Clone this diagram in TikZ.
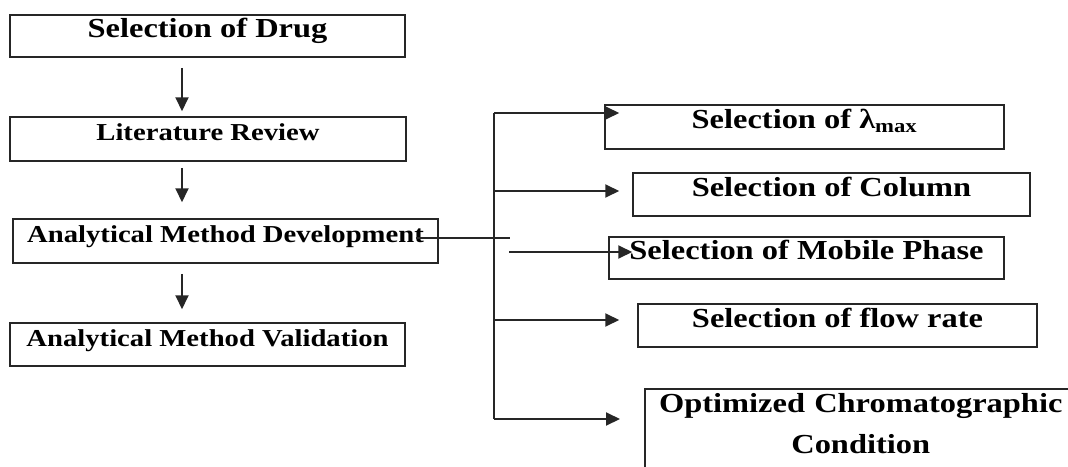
\documentclass[tikz,border=0pt]{standalone}
\usepackage{fontspec}
\setmainfont{Liberation Serif}[FakeStretch=1.18]
\usetikzlibrary{arrows.meta,calc}

\begin{document}
\begin{tikzpicture}[x=1pt,y=-1pt,
    box/.style={draw=black!85,line width=1.5pt,inner sep=4pt,text height=0.7em,text depth=0.38em,
      font=\fontsize{27.5}{33}\selectfont\bfseries},
    smallbox/.style={box,font=\fontsize{24.3}{29}\selectfont\bfseries},
    conn/.style={draw=black!85,line width=1.9pt},
    arr/.style={conn,-{Triangle[length=14pt,width=13pt]}}]
    \clip (0,0) rectangle (1068,466);
    \node[box,minimum width=395pt,minimum height=42pt] (drug) at (207.5,36) {Selection of Drug};
    \node[smallbox,minimum width=396pt,minimum height=44pt] (review) at (208,139) {Literature Review};
    \node[smallbox,minimum width=425pt,minimum height=44pt] (dev) at (225.5,241) {Analytical Method Development};
    \node[smallbox,minimum width=395pt,minimum height=43pt] (valid) at (207.5,344.5) {Analytical Method Validation};
    \node[box,minimum width=399pt,minimum height=44pt] (lmax) at (804.5,127) {Selection of λ\textsubscript{max}};
    \node[box,minimum width=397pt,minimum height=43pt] (column) at (831.5,194.5) {Selection of Column};
    \node[box,minimum width=395pt,minimum height=42pt] (mobile) at (806.5,258) {Selection of Mobile Phase};
    \node[box,minimum width=399pt,minimum height=43pt] (flow) at (837.5,325.5) {Selection of flow rate};
    \node[box,anchor=north west,inner sep=5pt,text width=422pt,align=center,text height=,text depth=100pt,
      font=\fontsize{27.5}{41}\selectfont\bfseries] (optim) at (644,388) {Optimized Chromatographic\\Condition};

    \draw[arr] ([xshift=-25.5pt,yshift=-10pt]drug.south) -- ([xshift=-26pt,yshift=5pt]review.north);
    \draw[arr] ([xshift=-26pt,yshift=-6pt]review.south) -- ([xshift=-43.5pt,yshift=16pt]dev.north);
    \draw[arr] ([xshift=-43.5pt,yshift=-10pt]dev.south) -- ([xshift=-25.5pt,yshift=13pt]valid.north);

    \coordinate (d1) at (510,238);
    \coordinate (m1) at (509,252);
    \coordinate (s1) at (494,113);
    \coordinate (s2) at (494,191);
    \coordinate (s4) at (494,320);
    \coordinate (s5) at (494,419);
    \draw[conn] ($(dev.east |- d1)+(-23,0)$) -- (d1);
    \draw[conn] (s1) -- (s5);
    \draw[arr] (s1) -- ($(s1 -| lmax.west)+(15,0)$);
    \draw[arr] (s2) -- ($(s2 -| column.west)+(-13,0)$);
    \draw[arr] (m1) -- ($(m1 -| mobile.west)+(24,0)$);
    \draw[arr] (s4) -- ($(s4 -| flow.west)+(-18,0)$);
    \draw[arr] (s5) -- ($(s5 -| optim.west)+(-24,0)$);
  \end{tikzpicture}
\end{document}
